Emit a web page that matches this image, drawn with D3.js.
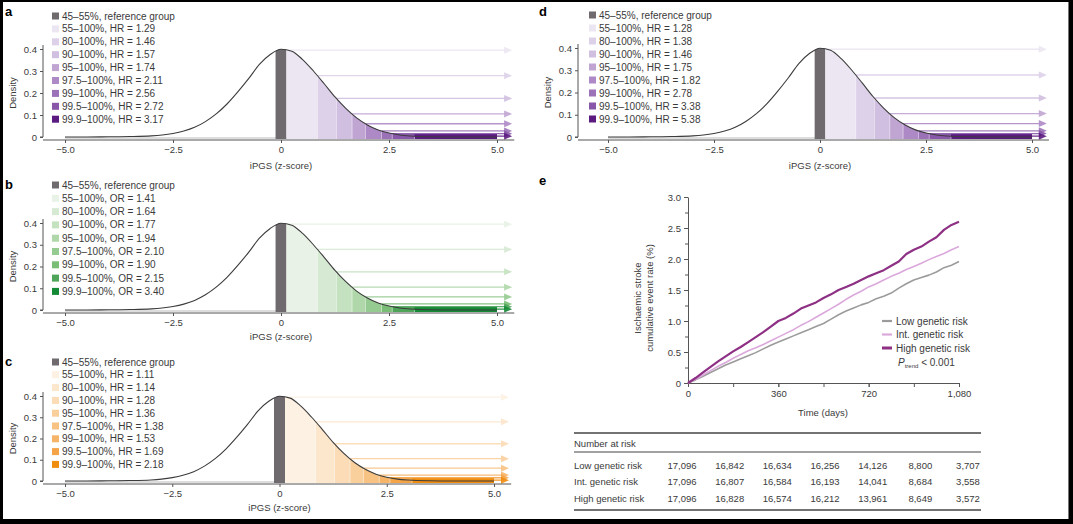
<!DOCTYPE html>
<html><head><meta charset="utf-8">
<script src="https://cdn.jsdelivr.net/npm/d3@7"></script>
<style>
body{margin:0;background:#000;}
svg{display:block;font-family:"Liberation Sans",Arial,sans-serif;}
</style>
</head><body>
<svg id="chart" width="1073" height="524"></svg>
<script>
// ---------- data ----------
const zGrid = [-5, -4.5, -4, -3.5, -3, -2.75, -2.5, -2.25, -2, -1.75, -1.5, -1.25, -1, -0.75, -0.5, -0.25, 0, 0.25, 0.5, 0.75, 1, 1.25, 1.5, 1.75, 2, 2.25, 2.5, 2.75, 3, 3.5, 4, 4.5, 5];
const densityValues = [0, 0, 0.001, 0.002, 0.005, 0.009, 0.016, 0.027, 0.044, 0.07, 0.105, 0.15, 0.205, 0.265, 0.33, 0.375, 0.399, 0.39, 0.352, 0.3, 0.242, 0.182, 0.13, 0.087, 0.055, 0.032, 0.018, 0.009, 0.0045, 0.001, 0, 0, 0];
const refBand = [-0.126, 0.126];
const thresholds = [0.126, 0.842, 1.282, 1.645, 1.96, 2.326, 2.576, 3.09];
const bandRanges = ["55–100%", "80–100%", "90–100%", "95–100%", "97.5–100%", "99–100%", "99.5–100%", "99.9–100%"];
const hrA = [1.29, 1.46, 1.57, 1.74, 2.11, 2.56, 2.72, 3.17];
const orB = [1.41, 1.64, 1.77, 1.94, 2.10, 1.90, 2.15, 3.40];
const hrC = [1.11, 1.14, 1.28, 1.36, 1.38, 1.53, 1.69, 2.18];
const hrD = [1.28, 1.38, 1.46, 1.75, 1.82, 2.78, 3.38, 5.38];
const refColor = "#6e6a6e";
const purples = ["#ece6f2", "#ddd1e9", "#d0bfe0", "#c0a5d3", "#ad8ac5", "#9b72b8", "#8857aa", "#5a1a80"];
const greens = ["#e8f2e6", "#d6ead3", "#c4e2c0", "#afd7aa", "#95cb90", "#7abd76", "#4ea55a", "#148a36"];
const oranges = ["#fdf1e3", "#fce6cc", "#fbdcb6", "#f9cf9c", "#f8c283", "#f6b468", "#f4a446", "#f08c0e"];
const densityTicks = [0, 0.1, 0.2, 0.3, 0.4];
const zTicks = [-5, -2.5, 0, 2.5, 5];

const days = [0,30,60,90,120,150,180,210,240,270,300,330,360,390,420,450,480,510,540,570,600,630,660,690,720,750,780,810,840,870,900,930,960,990,1020,1050,1080];
const lowRisk = [0,0.05,0.11,0.17,0.23,0.29,0.34,0.39,0.44,0.49,0.55,0.61,0.66,0.71,0.76,0.81,0.86,0.91,0.96,1.03,1.10,1.16,1.21,1.26,1.30,1.36,1.40,1.45,1.53,1.60,1.66,1.70,1.74,1.79,1.86,1.90,1.96];
const intRisk = [0,0.06,0.13,0.20,0.27,0.33,0.40,0.46,0.52,0.57,0.62,0.68,0.74,0.80,0.86,0.93,0.99,1.06,1.13,1.20,1.27,1.35,1.42,1.48,1.55,1.60,1.66,1.72,1.77,1.83,1.88,1.93,1.99,2.04,2.09,2.15,2.20];
const highRisk = [0,0.08,0.17,0.26,0.35,0.43,0.51,0.58,0.66,0.74,0.82,0.91,1.00,1.05,1.12,1.20,1.25,1.30,1.37,1.43,1.50,1.55,1.60,1.66,1.72,1.77,1.82,1.89,1.96,2.08,2.15,2.20,2.28,2.35,2.47,2.55,2.60];
const riskGroups = ["Low genetic risk", "Int. genetic risk", "High genetic risk"];
const riskColors = ["#9b9b9b", "#dba8dc", "#8e3185"];
const timeTicks = [0, 360, 720, 1080];
const timeMinorTicks = [0, 180, 360, 540, 720, 900, 1080];
const rateTicks = [0, 0.5, 1, 1.5, 2, 2.5, 3];
const rateMinorTicks = [0.25, 0.75, 1.25, 1.75, 2.25, 2.75];
const atRiskDays = [0, 180, 360, 540, 720, 900, 1080];
const atRiskLow = [17096, 16842, 16634, 16256, 14126, 8800, 3707];
const atRiskInt = [17096, 16807, 16584, 16193, 14041, 8684, 3558];
const atRiskHigh = [17096, 16828, 16574, 16212, 13961, 8649, 3572];

// ---------- drawing ----------
const svg = d3.select("#chart");
svg.append("rect").attr("x", 3).attr("y", 2).attr("width", 1066).attr("height", 517).attr("fill", "#fff");
svg.append("line").attr("x1", 1068.5).attr("x2", 1068.5).attr("y1", 2).attr("y2", 519).attr("stroke", "#777");
const defs = svg.append("defs");
const textCol = "#3a3a3a";
const axisCol = "#555";

function densityAt(z) {
  const i = d3.bisectRight(zGrid, z) - 1;
  if (i < 0) return densityValues[0];
  if (i >= zGrid.length - 1) return densityValues[zGrid.length - 1];
  const t = (z - zGrid[i]) / (zGrid[i + 1] - zGrid[i]);
  return densityValues[i] * (1 - t) + densityValues[i + 1] * t;
}

let clipId = 0;
function drawDensity(c) {
  const g = svg.append("g");
  const x = d3.scaleLinear().domain([-5, 5]).range([c.xm5, c.xp5]);
  const y = d3.scaleLinear().domain([0, 0.4]).range([c.yZero, c.yTop]);
  const pts = zGrid.map((z, i) => [z, densityValues[i]]);
  const area = d3.area().x(d => x(d[0])).y0(c.yZero + 2)
    .y1(d => Math.min(y(d[1]), c.yZero - 3)).curve(d3.curveMonotoneX);
  const line = d3.line().x(d => x(d[0])).y(d => y(d[1])).curve(d3.curveMonotoneX);

  function band(from, to, color) {
    const id = "clip" + (clipId++);
    defs.append("clipPath").attr("id", id).append("rect")
      .attr("x", x(from)).attr("width", x(to) - x(from))
      .attr("y", c.yTop - 10).attr("height", c.yZero - c.yTop + 20);
    g.append("path").datum(pts).attr("d", area).attr("fill", color).attr("clip-path", `url(#${id})`);
  }
  // baseline
  g.append("line").attr("x1", x(-5)).attr("x2", x(5)).attr("y1", c.yZero + 1).attr("y2", c.yZero + 1)
    .attr("stroke", "#bbb").attr("stroke-width", 1.2);
  band(refBand[0], refBand[1], refColor);
  thresholds.forEach((t, i) => band(t, 5, c.colors[i]));
  // thin white separators
  thresholds.slice(1).forEach(t => {
    g.append("line").attr("x1", x(t)).attr("x2", x(t)).attr("y1", y(densityAt(t))).attr("y2", c.yZero + 2)
      .attr("stroke", "#fff").attr("stroke-width", 0.6).attr("opacity", 0.8);
  });
  // arrows
  const tipZ = 5.35, headLen = 8, headH = 3.5;
  thresholds.forEach((t, i) => {
    const yy = y(densityAt(t));
    g.append("line").attr("x1", x(t)).attr("x2", x(tipZ) - headLen + 1).attr("y1", yy).attr("y2", yy)
      .attr("stroke", c.colors[i]).attr("stroke-width", 1.3).attr("opacity", 0.9);
    const tx = x(tipZ);
    g.append("path").attr("d", `M${tx},${yy}L${tx - headLen},${yy - headH}L${tx - headLen},${yy + headH}Z`)
      .attr("fill", c.colors[i]).attr("opacity", 0.9);
  });
  // curve
  g.append("path").datum(pts).attr("d", line).attr("fill", "none").attr("stroke", "#3c3c3c").attr("stroke-width", 1.1);

  // y axis
  const ya = g.append("g").attr("transform", `translate(${c.axisX},0)`)
    .call(d3.axisLeft(y).tickValues(densityTicks).tickSize(3).tickFormat(d => d === 0 ? "0" : d3.format(".1f")(d)));
  ya.select(".domain").attr("d", `M-3,${c.yZero}H0V${c.yTop - 4}`);
  styleAxis(ya);
  // x axis
  const xa = g.append("g").attr("transform", `translate(0,${c.axisY})`)
    .call(d3.axisBottom(x).tickValues(zTicks).tickSize(3).tickFormat(d => d === 0 ? "0" : d3.format(".1f")(d)));
  xa.select(".domain").attr("d", `M${c.axisX},0H${x(5.4)}`);
  styleAxis(xa);
  xa.selectAll("text").attr("dy", "0.71em").attr("y", 6);

  g.append("text").attr("x", (x(-5) + x(5)) / 2).attr("y", c.titleY).attr("text-anchor", "middle")
    .attr("font-size", 9.5).attr("fill", textCol).text("iPGS (z-score)");
  g.append("text").attr("transform", `translate(${c.axisX - 27},${(c.yZero + c.yTop) / 2}) rotate(-90)`)
    .attr("text-anchor", "middle").attr("font-size", 9.5).attr("fill", textCol).text("Density");
  g.append("text").attr("x", c.lx).attr("y", c.ly).attr("font-size", 13).attr("font-weight", "bold").text(c.letter);

  // legend
  const items = [{ label: "45–55%, reference group", color: refColor }]
    .concat(bandRanges.map((r, i) => ({ label: `${r}, ${c.stat} = ${c.vals[i].toFixed(2)}`, color: c.colors[i] })));
  items.forEach((it, i) => {
    const cy = c.legY0 + i * c.legStep;
    g.append("rect").attr("x", c.legX).attr("y", cy - 3.5).attr("width", 7).attr("height", 7).attr("fill", it.color);
    g.append("text").attr("x", c.legX + 10).attr("y", cy + 3.5).attr("font-size", 10).attr("fill", textCol).text(it.label);
  });
}

function styleAxis(a) {
  a.select(".domain").attr("stroke", axisCol);
  a.selectAll(".tick line").attr("stroke", axisCol);
  a.selectAll("text").attr("fill", textCol).attr("font-size", 9.5).attr("font-family", "Liberation Sans, Arial, sans-serif");
}

drawDensity({ letter: "a", lx: 5, ly: 16, axisX: 43, xm5: 65, xp5: 497, yZero: 137, yTop: 49, axisY: 140, titleY: 169,
  legX: 52, legY0: 16, legStep: 12.9, stat: "HR", vals: hrA, colors: purples });
drawDensity({ letter: "b", lx: 5, ly: 189, axisX: 43, xm5: 65, xp5: 497, yZero: 310, yTop: 223, axisY: 313, titleY: 340,
  legX: 52, legY0: 185, legStep: 13.3, stat: "OR", vals: orB, colors: greens });
drawDensity({ letter: "c", lx: 5, ly: 366, axisX: 43, xm5: 65, xp5: 494, yZero: 481, yTop: 396, axisY: 484, titleY: 511,
  legX: 52, legY0: 362, legStep: 12.8, stat: "HR", vals: hrC, colors: oranges });
drawDensity({ letter: "d", lx: 539, ly: 16, axisX: 578, xm5: 608, xp5: 1032, yZero: 137, yTop: 48, axisY: 140, titleY: 169,
  legX: 589, legY0: 15, legStep: 13, stat: "HR", vals: hrD, colors: purples });

// ---------- panel e ----------
(function () {
  const g = svg.append("g");
  const x = d3.scaleLinear().domain([0, 1080]).range([688, 959]);
  const y = d3.scaleLinear().domain([0, 3]).range([383, 197]);
  // minor ticks
  const ym = g.append("g").attr("transform", "translate(688,0)")
    .call(d3.axisLeft(y).tickValues(rateMinorTicks).tickSize(3).tickFormat(""));
  ym.select(".domain").remove(); styleAxis(ym);
  const ya = g.append("g").attr("transform", "translate(688,0)")
    .call(d3.axisLeft(y).tickValues(rateTicks).tickSize(4).tickSizeOuter(0).tickFormat(d => d === 0 ? "0" : d3.format(".1f")(d)));
  styleAxis(ya);
  const xm = g.append("g").attr("transform", "translate(0,383)")
    .call(d3.axisBottom(x).tickValues(timeMinorTicks).tickSize(4).tickFormat(""));
  xm.select(".domain").remove(); styleAxis(xm);
  const xa = g.append("g").attr("transform", "translate(0,383)")
    .call(d3.axisBottom(x).tickValues(timeTicks).tickSize(4).tickSizeOuter(0).tickFormat(d3.format(",")));
  styleAxis(xa);
  xa.selectAll("text").attr("y", 7);

  const series = [lowRisk, intRisk, highRisk];
  const widths = [1.6, 1.6, 2.2];
  const line = d3.line().x((d, i) => x(days[i])).y(d => y(d));
  series.forEach((s, k) => {
    g.append("path").datum(s).attr("d", line).attr("fill", "none")
      .attr("stroke", riskColors[k]).attr("stroke-width", widths[k]).attr("stroke-linejoin", "round");
  });

  g.append("text").attr("x", 823).attr("y", 416).attr("text-anchor", "middle").attr("font-size", 9.5).attr("fill", textCol).text("Time (days)");
  const yt = g.append("text").attr("transform", "translate(0,0)").attr("font-size", 9.5).attr("fill", textCol).attr("text-anchor", "middle");
  g.append("text").attr("transform", "translate(641,298) rotate(-90)").attr("text-anchor", "middle")
    .attr("font-size", 9.5).attr("fill", textCol).text("Ischaemic stroke");
  g.append("text").attr("transform", "translate(653,298) rotate(-90)").attr("text-anchor", "middle")
    .attr("font-size", 9.5).attr("fill", textCol).text("cumulative event rate (%)");
  g.append("text").attr("x", 539).attr("y", 185).attr("font-size", 13).attr("font-weight", "bold").text("e");

  // legend
  riskGroups.forEach((r, k) => {
    const cy = 321 + k * 13.5;
    g.append("line").attr("x1", 882).attr("x2", 892).attr("y1", cy).attr("y2", cy)
      .attr("stroke", riskColors[k]).attr("stroke-width", k === 2 ? 3 : 2.2);
    g.append("text").attr("x", 896).attr("y", cy + 3.5).attr("font-size", 10).attr("fill", textCol).text(r);
  });
  const pt = g.append("text").attr("x", 898).attr("y", 365.5).attr("font-size", 10).attr("fill", textCol);
  pt.append("tspan").attr("font-style", "italic").text("P");
  pt.append("tspan").attr("font-size", 6).attr("dy", 2).text("trend");
  pt.append("tspan").attr("dy", -2).text(" < 0.001");

  // number at risk table
  const tx = d3.scaleLinear().domain([0, 1080]).range([682, 968]);
  [433, 452, 510].forEach((yy, i) => {
    g.append("line").attr("x1", 574).attr("x2", 981).attr("y1", yy).attr("y2", yy)
      .attr("stroke", "#444").attr("stroke-width", i === 1 ? 1.2 : 1.5);
  });
  g.append("text").attr("x", 574).attr("y", 447).attr("font-size", 9.5).attr("fill", textCol).text("Number at risk");
  const rows = [atRiskLow, atRiskInt, atRiskHigh];
  const rowY = [468.5, 484.5, 502];
  rows.forEach((row, k) => {
    g.append("text").attr("x", 574).attr("y", rowY[k]).attr("font-size", 9.5).attr("fill", textCol).text(riskGroups[k]);
    row.forEach((v, j) => {
      g.append("text").attr("x", tx(atRiskDays[j])).attr("y", rowY[k]).attr("text-anchor", "middle")
        .attr("font-size", 9.5).attr("fill", textCol).text(d3.format(",")(v));
    });
  });
})();
</script>
</body></html>
